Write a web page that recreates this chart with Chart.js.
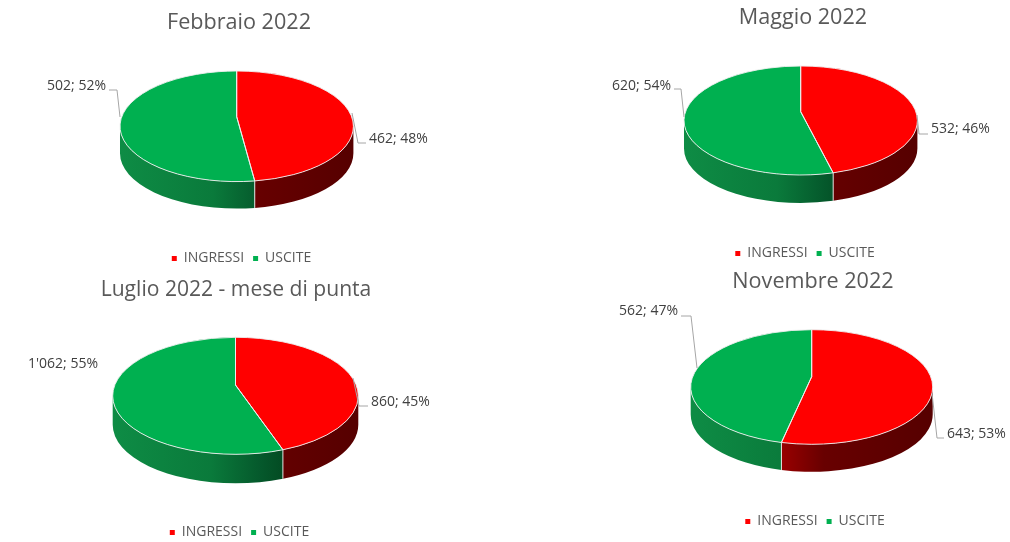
<!DOCTYPE html>
<html>
<head>
<meta charset="utf-8">
<title>Ingressi e uscite 2022</title>
<script src="https://cdn.jsdelivr.net/npm/chart.js@4/dist/chart.umd.min.js"></script>
<style>
  html, body { margin: 0; padding: 0; background: #fff; }
  body { position: relative; width: 1010px; height: 542px; overflow: hidden; }
  canvas { position: absolute; }
</style>
</head>
<body>
<script>
const categories = ["INGRESSI", "USCITE"];
const months = ["Febbraio 2022", "Maggio 2022", "Luglio 2022 - mese di punta", "Novembre 2022"];
const ingressi = [462, 532, 860, 643];
const uscite = [502, 620, 1062, 562];

const colors = ["#ff0000", "#00b050"];
const wallStops = [
  [[0, "#b00000"], [0.35, "#a00000"], [0.55, "#680000"], [1, "#560000"]],
  [[0, "#0e8c45"], [0.4, "#0a7a3b"], [0.6, "#05592c"], [0.7, "#034a22"], [1, "#034a22"]]
];
const font = "'Open Sans', sans-serif";

// where each pie sits on the page; lines are [textX, textY, elbowX, elbowY, endX, endY]
const panels = [
  { left: 0, top: 0, width: 478, height: 271, titleTop: 10, titleSize: 21.6, legendX: 241.5, legendY: 259,
    cx: 236.7, cy: 126.3, rx: 116.7, ry: 55.3, apex: 116.7, depth: 27,
    lines: [[369, 139, 358, 143, 352, 113], [106, 86, 117, 90, 120, 117]] },
  { left: 596, top: 0, width: 414, height: 271, titleTop: 5, titleSize: 21.6, legendX: 805, legendY: 254,
    cx: 800.7, cy: 120.5, rx: 116.7, ry: 54.5, apex: 111.7, depth: 28,
    lines: [[931, 129, 919, 134, 917, 115], [671, 86, 681, 89, 684, 117]] },
  { left: 0, top: 270, width: 472, height: 272, titleTop: 7, titleSize: 21.1, legendX: 239.5, legendY: 533,
    cx: 235.5, cy: 395.8, rx: 122.8, ry: 58.5, apex: 385, depth: 29,
    lines: [[371, 402, 359, 406, 353, 378], [98, 364]] },
  { left: 616, top: 265, width: 394, height: 277, titleTop: 4, titleSize: 21.6, legendX: 815, legendY: 522,
    cx: 811.7, cy: 387, rx: 121, ry: 57.3, apex: 376.7, depth: 27.5,
    lines: [[947, 434, 937, 438, 932, 393], [678, 311, 691, 316, 697, 368]] }
];

function labelText(value, total) {
  const num = String(value).replace(/\B(?=(\d{3})+$)/g, "'");
  return num + "; " + Math.round(value / total * 100) + "%";
}

// circle angle -> ellipse angle, with the centre pushed up by e (perspective)
function project(a, e) {
  const d = 1 - e * Math.sin(a);
  return Math.atan2((Math.sin(a) - e) / d, Math.cos(a) * Math.sqrt(1 - e * e) / d);
}

const pie3d = {
  id: "pie3d",
  afterLayout(chart, args, opts) {
    const p = opts.panel, leg = chart.legend;
    const dx = p.legendX - p.left - chart.width / 2;
    leg.left += dx;
    leg.right += dx;
    leg.top = p.legendY - p.top - leg.height / 2;
    leg.bottom = leg.top + leg.height;
  },
  beforeDatasetDraw(chart, args, opts) {
    const p = opts.panel, ctx = chart.ctx;
    const cx = p.cx - p.left, cy = p.cy - p.top;
    const e = (p.cy - p.apex) / p.ry;
    const arcs = chart.getDatasetMeta(args.index).data.map(function (arc) {
      const v = arc.getProps(["startAngle", "endAngle"], true);
      const a0 = project(v.startAngle, e);
      let a1 = project(v.endAngle, e);
      while (a1 <= a0) a1 += Math.PI * 2;
      return [a0, a1];
    });
    ctx.save();
    // side wall
    arcs.forEach(function (arc, i) {
      const lo = Math.max(arc[0], 0), hi = Math.min(arc[1], Math.PI);
      if (hi <= lo) return;
      const g = ctx.createLinearGradient(cx - p.rx, 0, cx + p.rx, 0);
      wallStops[i].forEach(function (s) { g.addColorStop(s[0], s[1]); });
      ctx.beginPath();
      ctx.ellipse(cx, cy, p.rx, p.ry, 0, lo, hi);
      ctx.ellipse(cx, cy + p.depth, p.rx, p.ry, 0, hi, lo, true);
      ctx.closePath();
      ctx.fillStyle = g;
      ctx.fill();
    });
    // top face
    arcs.forEach(function (arc, i) {
      ctx.beginPath();
      ctx.moveTo(cx, p.apex - p.top);
      ctx.ellipse(cx, cy, p.rx, p.ry, 0, arc[0], arc[1]);
      ctx.closePath();
      ctx.fillStyle = colors[i];
      ctx.fill();
    });
    ctx.strokeStyle = "rgba(238,238,238,0.9)";
    ctx.lineWidth = 1;
    arcs.forEach(function (arc) {
      ctx.beginPath();
      ctx.moveTo(cx, p.apex - p.top);
      ctx.ellipse(cx, cy, p.rx, p.ry, 0, arc[0], arc[1]);
      ctx.closePath();
      ctx.stroke();
      // seam down the wall
      const sx = cx + p.rx * Math.cos(arc[1]), sy = cy + p.ry * Math.sin(arc[1]);
      if (Math.sin(arc[1]) > 0) {
        ctx.beginPath();
        ctx.moveTo(sx, sy);
        ctx.lineTo(sx, sy + p.depth);
        ctx.stroke();
      }
    });
    ctx.restore();
    return false;
  },
  afterDraw(chart, args, opts) {
    const p = opts.panel, ctx = chart.ctx;
    const values = chart.data.datasets[0].data;
    const total = values[0] + values[1];
    ctx.save();
    ctx.font = "14px " + font;
    ctx.textBaseline = "middle";
    values.forEach(function (v, i) {
      const l = p.lines[i], tx = l[0] - p.left, ty = l[1] - p.top;
      ctx.fillStyle = "#404040";
      ctx.textAlign = i === 0 ? "left" : "right";
      ctx.fillText(labelText(v, total), tx, ty);
      if (l.length > 2) {
        const startX = i === 0 ? tx - 3 : tx + 3;
        ctx.strokeStyle = "#a6a6a6";
        ctx.lineWidth = 1;
        ctx.beginPath();
        ctx.moveTo(startX, l[3] - p.top);
        ctx.lineTo(l[2] - p.left, l[3] - p.top);
        ctx.lineTo(l[4] - p.left, l[5] - p.top);
        ctx.stroke();
      }
    });
    ctx.restore();
  }
};

panels.forEach(function (panel, i) {
  const canvas = document.createElement("canvas");
  canvas.width = panel.width;
  canvas.height = panel.height;
  canvas.style.left = panel.left + "px";
  canvas.style.top = panel.top + "px";
  document.body.appendChild(canvas);

  new Chart(canvas, {
    type: "pie",
    data: {
      labels: categories,
      datasets: [{ data: [ingressi[i], uscite[i]], backgroundColor: colors, borderWidth: 0 }]
    },
    options: {
      responsive: false,
      animation: false,
      plugins: {
        title: {
          display: true,
          text: months[i],
          color: "#595959",
          font: { family: font, size: panel.titleSize, weight: "normal" },
          padding: { top: panel.titleTop, bottom: 4 }
        },
        legend: {
          position: "bottom",
          labels: {
            boxWidth: 5,
            boxHeight: 5,
            padding: 9,
            color: "#595959",
            font: { family: font, size: 14 }
          }
        },
        tooltip: { enabled: false },
        pie3d: { panel: panel }
      }
    },
    plugins: [pie3d]
  });
});
</script>
</body>
</html>
